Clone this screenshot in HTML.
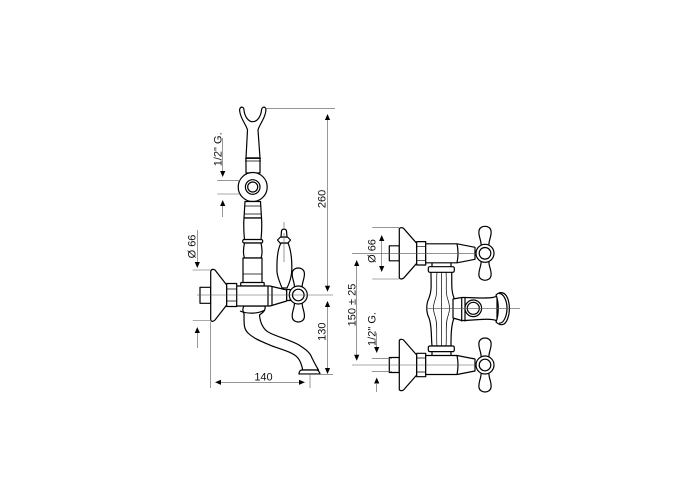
<!DOCTYPE html>
<html><head><meta charset="utf-8"><style>
html,body{margin:0;padding:0;background:#fff}
svg{display:block}
.o{fill:#fff;stroke:#000;stroke-width:1.2;stroke-linejoin:round}
.n{fill:none;stroke:#000;stroke-width:1.2;stroke-linejoin:round}
.t{fill:none;stroke:#000;stroke-width:.7}
.d{fill:none;stroke:#555;stroke-width:.6}
text{font-family:"Liberation Sans",sans-serif;font-size:11px;fill:#111;text-anchor:middle}
</style></head><body>
<svg width="700" height="500" viewBox="0 0 700 500" xmlns="http://www.w3.org/2000/svg">
<defs>
<path id="ah" d="M0 0L-2.600 6L2.600 6Z" fill="#000"/>
<g id="cross">
<path class="o" d="M-4-7C-3-12-7-17-6-22.500C-5-28.500 5-28.500 6-22.500C7-17 3-12 4-7Z"/>
<path class="o" d="M-4 7C-3 12-7 17-6 22.500C-5 28.500 5 28.500 6 22.500C7 17 3 12 4 7Z"/>
<circle class="o" r="9"/>
<circle class="o" r="5.800"/>
</g>
<g id="valve">
<rect class="o" x="389.300" y="-7.500" width="10" height="15"/>
<path class="o" d="M399.300-24C399.300-26 402-26 403.500-25L416.700-10L416.700 10L403.500 25C402 26 399.300 26 399.300 24Z"/>
<rect class="o" x="416.700" y="-11.700" width="9" height="23.400"/>
<path class="t" d="M416.700-7H425.700M416.700 7H425.700"/>
<path class="o" d="M425.700-9.500H457L475-6V6L457 9.500H425.700Z"/>
<path class="n" d="M457-9.500Q459 0 457 9.500"/>
</g>
</defs>

<!-- LEFT: upright -->
<path class="o" d="M239.700 111C239 106 244 106 244 110C244.500 116 248 121.700 252.700 121.700C257.500 121.700 261 116 261.500 110C262 106 266.500 106 265.800 111C265 119 259.500 124 258 130L260 158H246L247.500 130C246 124 240.500 119 239.700 111Z"/>
<rect class="o" x="246" y="158" width="14" height="15"/>
<path class="t" d="M245 158.500H261M245 161H261"/>
<circle class="o" cx="252.700" cy="187" r="14.500"/>
<circle class="n" cx="252.700" cy="187" r="7.300"/>
<circle class="n" cx="252.700" cy="187" r="5" stroke-width="1.500"/>
<path class="o" d="M245 201.500H260.500L261.500 218H244Z"/>
<path class="t" d="M244.500 206H261M244.500 214H261"/>
<path class="o" d="M244 218C243.500 225 244 235 244.500 240H261C261.500 235 262 225 261.500 218Z"/>
<rect class="o" x="242.700" y="239.500" width="20" height="3.500" rx="1.500"/>
<path class="o" d="M244.500 243C243 250 243 254 244.500 258H261C262.500 254 262.500 250 261 243Z"/>
<rect class="o" x="243" y="258" width="19" height="25"/>
<path class="t" d="M243 274H262"/>
<rect class="o" x="240.700" y="282.500" width="23.500" height="3.500" rx="1"/>
<!-- spout -->
<path class="o" d="M244 306C241 311 245 313 244 316C244 325 244 329 248 333C254 339 263 342 272 346C284 350 294 353 298 358C301 362 302 366 302.700 370H318.500C316 366 314 362 312 358C310 352 305 349 299 345C290 340 278 337 270 333C263 330 260 322 259.500 315C262 313 266 311 265 306Z"/>
<path class="o" d="M299 374C299 372 300 370 302 370H317C319 371 320 373 320 374Z"/>
<path class="n" d="M240 311C247 314 258 314 265 310"/>
<!-- body -->
<path class="o" d="M236.700 286H270L286.700 290V301L270 306H236.700C234 300 234 291 236.700 286Z"/>
<path class="n" d="M268 286V306M272 286.500V305.500"/>
<rect class="o" x="286.700" y="289.500" width="3.500" height="11"/>
<!-- lever -->
<path class="o" d="M281 243C277 250 276.700 262 277 272C277.500 278 281 285 282 288H287C289 284 291.500 278 291.800 270C292 260 291 250 288 243Z"/>
<path class="o" d="M277.500 240L280.500 237H287.500L290.500 240L288 243H280Z"/>
<path class="o" d="M281 237L281.500 231C282 228.500 286 228.500 286.500 231L287 237Z"/>
<use href="#cross" x="298.300" y="295"/>
<rect class="o" x="200" y="287.300" width="10.700" height="16"/>
<path class="o" d="M210.700 272C210.700 269 213 269 215 270L226.700 285V305L215 320C213 322 210.700 322 210.700 319Z"/>
<rect class="o" x="226.700" y="283.500" width="10" height="23"/>
<path class="t" d="M226.700 289H236.700M226.700 301H236.700"/>

<!-- left dims -->
<path class="d" d="M197 295H333M284 222V228M284 233V262M265 108.300H335M327.500 118V286M327.500 306V368M300 374.300H333M210.700 322V388M310 374V388M217 382.300H303M192.700 270H210M192.700 320.500H210M217.300 180.700H240M217.300 194H240M197.300 230V262M197.300 333V348M222.700 138V171M222.700 206V217"/>
<use href="#ah" x="327.500" y="114"/>
<use href="#ah" transform="translate(327.500,291.700) rotate(180)"/>
<use href="#ah" x="327.500" y="301"/>
<use href="#ah" transform="translate(327.500,374) rotate(180)"/>
<use href="#ah" transform="translate(215,382.300) rotate(-90)"/>
<use href="#ah" transform="translate(305,382.300) rotate(90)"/>
<use href="#ah" transform="translate(197.300,268) rotate(180)"/>
<use href="#ah" x="197.300" y="327"/>
<use href="#ah" transform="translate(222.700,177) rotate(180)"/>
<use href="#ah" x="222.700" y="200"/>
<text transform="translate(325.500,199) rotate(-90)">260</text>
<text transform="translate(325.500,331.700) rotate(-90)">130</text>
<text x="263.500" y="380.500">140</text>
<text transform="translate(195.500,246.500) rotate(-90)">Ø 66</text>
<text transform="translate(221.500,149.300) rotate(-90)">1/2" G.</text>

<!-- RIGHT -->
<!-- necks between valve bodies and collars -->
<rect class="o" x="432" y="262" width="19" height="6"/>
<rect class="o" x="432" y="350" width="19" height="6"/>
<path class="o" d="M431 272C431 285 432 290 429 298C426 304 426 312 429 318C432 326 431 336 432 346H451C451 336 451 326 454 318C457 312 457 304 454 298C451 290 452 285 451.700 272Z"/>
<path class="t" d="M437 272C436 285 438 292 435 300C433 306 433 310 435 316C438 324 436 336 437 346M446 272C447 285 445 292 448 300C450 306 450 310 448 316C445 324 447 336 446 346M441.500 272V346"/>
<g transform="translate(0,253.300)"><use href="#valve"/></g>
<g transform="translate(0,365)"><use href="#valve"/></g>
<rect class="o" x="428.300" y="266.700" width="26" height="5.600" rx="1.500"/>
<rect class="o" x="428.300" y="346" width="26" height="5.600" rx="1.500"/>
<use href="#cross" x="485" y="253.300"/>
<use href="#cross" x="485" y="365"/>
<!-- side outlet -->
<path class="o" d="M453 299L461.700 297.500H465L480 298C488 298 494 298 497 296V321C494 319 488 319 480 319.500L465 320.500H461.700L453 318Z"/>
<path class="n" d="M461.700 297V321.500M465 297V321.500"/>
<path class="o" d="M496 295C500 291 505 292 507.500 298C510 304 510 313 507.500 319C505 326 500 326 496 322C499 315 499 302 496 295Z"/>
<path class="n" d="M499 293.500C503 293 507 300 507 308C507 317 503 324 499 323"/>
<circle class="o" cx="473.300" cy="308.300" r="8.300"/>
<circle class="n" cx="473.300" cy="308.300" r="6"/>
<!-- right dims -->
<path class="d" d="M352 253.300H476M352 365H476M426 308.300H520M372.300 227.700H399M372.300 279H399M381.700 241V266M356.700 266V355M371.700 358.300H392M371.700 371.700H392M376.700 333V347M376.700 384V392"/>
<use href="#ah" x="381.700" y="235"/>
<use href="#ah" transform="translate(381.700,272) rotate(180)"/>
<use href="#ah" x="356.700" y="260"/>
<use href="#ah" transform="translate(356.700,360.700) rotate(180)"/>
<use href="#ah" transform="translate(376.700,353) rotate(180)"/>
<use href="#ah" x="376.700" y="377.500"/>
<text transform="translate(375.500,251) rotate(-90)">Ø 66</text>
<text transform="translate(355.500,305) rotate(-90)">150 ± 25</text>
<text transform="translate(375.500,329) rotate(-90)">1/2" G.</text>
</svg>
</body></html>
